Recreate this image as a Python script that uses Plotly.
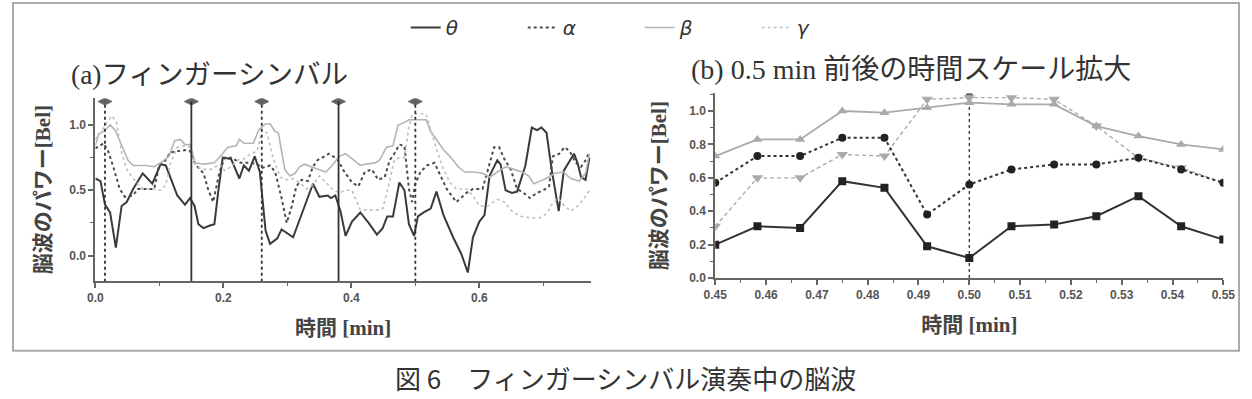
import plotly.graph_objects as go

# ---------------- data: (a) full recording ----------------
theta_a_t = [0, 0.008, 0.015, 0.023, 0.032, 0.041, 0.049, 0.059, 0.074, 0.089, 0.102, 0.11, 0.128, 0.14, 0.148, 0.155, 0.161, 0.169, 0.179, 0.186, 0.192, 0.199, 0.212, 0.225, 0.232, 0.24, 0.249, 0.257, 0.266, 0.273, 0.284, 0.291, 0.309, 0.34, 0.35, 0.363, 0.368, 0.375, 0.383, 0.391, 0.401, 0.414, 0.427, 0.44, 0.449, 0.456, 0.465, 0.475, 0.483, 0.49, 0.498, 0.504, 0.513, 0.524, 0.533, 0.544, 0.559, 0.572, 0.582, 0.59, 0.6, 0.608, 0.616, 0.628, 0.633, 0.641, 0.651, 0.659, 0.672, 0.682, 0.69, 0.697, 0.705, 0.713, 0.724, 0.732, 0.748, 0.754, 0.759, 0.766, 0.772]
theta_a_v = [0.59, 0.57, 0.39, 0.33, 0.06, 0.38, 0.41, 0.51, 0.63, 0.55, 0.70, 0.69, 0.46, 0.39, 0.44, 0.38, 0.24, 0.21, 0.23, 0.24, 0.49, 0.75, 0.74, 0.59, 0.69, 0.65, 0.76, 0.64, 0.19, 0.09, 0.13, 0.20, 0.14, 0.55, 0.45, 0.46, 0.44, 0.46, 0.34, 0.15, 0.26, 0.33, 0.25, 0.16, 0.21, 0.30, 0.30, 0.56, 0.50, 0.24, 0.15, 0.30, 0.33, 0.36, 0.49, 0.31, 0.14, 0.01, -0.13, 0.14, 0.26, 0.31, 0.61, 0.73, 0.70, 0.50, 0.48, 0.49, 0.69, 0.98, 0.96, 0.98, 0.94, 0.66, 0.34, 0.65, 0.78, 0.70, 0.60, 0.58, 0.75]

alpha_a_t = [0, 0.013, 0.02, 0.028, 0.038, 0.046, 0.059, 0.066, 0.082, 0.092, 0.1, 0.107, 0.117, 0.128, 0.143, 0.148, 0.156, 0.169, 0.176, 0.184, 0.194, 0.202, 0.212, 0.227, 0.243, 0.253, 0.26, 0.273, 0.281, 0.291, 0.299, 0.307, 0.314, 0.322, 0.332, 0.34, 0.347, 0.365, 0.378, 0.388, 0.401, 0.411, 0.421, 0.432, 0.442, 0.452, 0.46, 0.467, 0.475, 0.483, 0.49, 0.495, 0.5, 0.508, 0.518, 0.53, 0.539, 0.549, 0.564, 0.58, 0.59, 0.605, 0.613, 0.623, 0.631, 0.639, 0.649, 0.659, 0.669, 0.679, 0.69, 0.7, 0.709, 0.715, 0.725, 0.733, 0.741, 0.751, 0.759, 0.766, 0.772]
alpha_a_v = [0.82, 0.86, 0.80, 0.68, 0.51, 0.45, 0.46, 0.51, 0.51, 0.51, 0.70, 0.71, 0.79, 0.80, 0.81, 0.80, 0.70, 0.63, 0.51, 0.41, 0.64, 0.75, 0.75, 0.71, 0.71, 0.70, 0.67, 0.69, 0.64, 0.44, 0.25, 0.38, 0.53, 0.58, 0.57, 0.68, 0.73, 0.78, 0.74, 0.65, 0.56, 0.53, 0.64, 0.66, 0.58, 0.60, 0.73, 0.78, 0.85, 0.84, 0.51, 0.41, 0.55, 0.64, 0.69, 0.71, 0.61, 0.51, 0.41, 0.48, 0.51, 0.51, 0.65, 0.83, 0.83, 0.74, 0.66, 0.51, 0.48, 0.44, 0.48, 0.50, 0.53, 0.76, 0.78, 0.83, 0.80, 0.71, 0.68, 0.73, 0.79]

beta_a_t = [0, 0.005, 0.015, 0.023, 0.031, 0.041, 0.051, 0.059, 0.079, 0.092, 0.102, 0.115, 0.124, 0.133, 0.14, 0.148, 0.156, 0.169, 0.186, 0.197, 0.207, 0.22, 0.225, 0.232, 0.24, 0.247, 0.255, 0.266, 0.273, 0.281, 0.286, 0.291, 0.296, 0.304, 0.312, 0.319, 0.327, 0.337, 0.35, 0.36, 0.37, 0.381, 0.391, 0.401, 0.414, 0.421, 0.437, 0.444, 0.455, 0.465, 0.473, 0.483, 0.49, 0.504, 0.517, 0.524, 0.534, 0.544, 0.554, 0.567, 0.577, 0.59, 0.605, 0.616, 0.628, 0.641, 0.654, 0.667, 0.677, 0.685, 0.695, 0.708, 0.718, 0.731, 0.743, 0.756, 0.766, 0.772]
beta_a_v = [0.84, 0.93, 0.96, 1.00, 0.96, 0.84, 0.73, 0.69, 0.69, 0.68, 0.71, 0.76, 0.88, 0.89, 0.85, 0.85, 0.71, 0.70, 0.71, 0.77, 0.83, 0.84, 0.89, 0.86, 0.86, 0.86, 0.96, 1.01, 1.01, 0.95, 0.94, 0.81, 0.66, 0.61, 0.63, 0.68, 0.70, 0.68, 0.66, 0.64, 0.69, 0.76, 0.78, 0.74, 0.69, 0.70, 0.71, 0.73, 0.83, 0.84, 1.00, 1.02, 1.04, 1.04, 1.04, 0.95, 0.88, 0.81, 0.76, 0.68, 0.64, 0.64, 0.63, 0.60, 0.64, 0.68, 0.66, 0.64, 0.61, 0.55, 0.57, 0.60, 0.63, 0.64, 0.59, 0.57, 0.63, 0.78]

gamma_a_t = [0, 0.008, 0.018, 0.026, 0.033, 0.041, 0.049, 0.059, 0.074, 0.089, 0.102, 0.11, 0.117, 0.128, 0.14, 0.148, 0.156, 0.166, 0.181, 0.194, 0.202, 0.212, 0.222, 0.232, 0.243, 0.253, 0.26, 0.268, 0.278, 0.289, 0.299, 0.309, 0.319, 0.33, 0.34, 0.35, 0.36, 0.37, 0.381, 0.391, 0.401, 0.414, 0.429, 0.442, 0.449, 0.457, 0.467, 0.475, 0.483, 0.49, 0.495, 0.506, 0.517, 0.524, 0.534, 0.544, 0.554, 0.564, 0.58, 0.59, 0.6, 0.613, 0.628, 0.639, 0.651, 0.664, 0.679, 0.695, 0.705, 0.713, 0.723, 0.733, 0.743, 0.754, 0.764, 0.772]
gamma_a_v = [0.89, 0.94, 1.02, 1.07, 1.02, 0.79, 0.66, 0.59, 0.51, 0.51, 0.50, 0.54, 0.70, 0.83, 0.84, 0.83, 0.70, 0.66, 0.66, 0.70, 0.65, 0.68, 0.73, 0.74, 0.78, 0.80, 0.96, 0.94, 0.74, 0.60, 0.58, 0.59, 0.56, 0.51, 0.54, 0.61, 0.56, 0.51, 0.48, 0.50, 0.50, 0.35, 0.35, 0.35, 0.36, 0.51, 0.73, 0.75, 0.75, 0.99, 1.08, 1.09, 1.08, 0.96, 0.80, 0.66, 0.56, 0.51, 0.51, 0.46, 0.38, 0.38, 0.43, 0.41, 0.34, 0.30, 0.29, 0.29, 0.32, 0.39, 0.44, 0.38, 0.34, 0.38, 0.44, 0.50]

# strike events (cymbal hits) in (a): time, line style
event_t = [0.015, 0.15, 0.26, 0.38, 0.50]
event_dash = ["dot", "solid", "dot", "solid", "dot"]
event_lo, event_hi = -0.2, 1.18

# ---------------- data: (b) zoom around 0.5 min ----------------
t_b = [0.45, 0.4583, 0.4667, 0.475, 0.4833, 0.4917, 0.5, 0.5083, 0.5167, 0.525, 0.5333, 0.5417, 0.55]
theta_b = [0.20, 0.31, 0.30, 0.58, 0.54, 0.19, 0.12, 0.31, 0.32, 0.37, 0.49, 0.31, 0.23]
alpha_b = [0.57, 0.73, 0.73, 0.84, 0.84, 0.38, 0.56, 0.65, 0.68, 0.68, 0.72, 0.65, 0.57]
beta_b = [0.73, 0.83, 0.83, 1.00, 0.99, 1.02, 1.05, 1.04, 1.04, 0.91, 0.85, 0.80, 0.77]
gamma_b = [0.31, 0.60, 0.60, 0.74, 0.73, 1.07, 1.08, 1.08, 1.07, 0.91, 0.72, 0.66, 0.57]
event_b_t = 0.50
event_b_hi = 1.09

names = ["θ", "α", "β", "γ"]

# ---------------- styles ----------------
C_DARK = "#3a3a3a"
C_LIGHT = "#b4b4b4"
C_AXIS = "#666666"
C_TEXT = "#444444"
SERIF_JP = "Liberation Serif, Noto Sans CJK JP"
W, H = 1252, 399

fig = go.Figure()

series_a = [
    (theta_a_t, theta_a_v, C_DARK, "solid", 2.0),
    (alpha_a_t, alpha_a_v, "#4a4a4a", "dot", 2.0),
    (beta_a_t, beta_a_v, C_LIGHT, "solid", 1.6),
    (gamma_a_t, gamma_a_v, "#c0c0c0", "dot", 1.6),
]
for name, (t, v, col, dash, w) in zip(names, series_a):
    fig.add_trace(go.Scatter(x=t, y=v, mode="lines", name=name,
                             line=dict(color=col, dash=dash, width=w),
                             xaxis="x", yaxis="y", showlegend=True))

for t, d in zip(event_t, event_dash):
    fig.add_trace(go.Scatter(x=[t, t], y=[event_lo, event_hi], mode="lines+markers",
                             line=dict(color="#333333", dash=d, width=1.8),
                             marker=dict(symbol="diamond-wide", size=[0, 10], color="#222222"),
                             xaxis="x", yaxis="y", showlegend=False, hoverinfo="skip"))

series_b = [
    (theta_b, "#333333", "solid", 2.0, "square", "#222222", 8),
    (alpha_b, "#333333", "dot", 2.0, "circle", "#222222", 8),
    (beta_b, "#aaaaaa", "solid", 1.8, "triangle-up", "#aaaaaa", 9),
    (gamma_b, "#aaaaaa", "4px,3px", 1.4, "triangle-down", "#aaaaaa", 10),
]
# vertical event line in (b)
fig.add_trace(go.Scatter(x=[event_b_t, event_b_t], y=[0, event_b_hi], mode="lines+markers",
                         line=dict(color="#333333", dash="dot", width=1.3),
                         marker=dict(symbol="circle", size=[0, 7], color="#222222"),
                         xaxis="x2", yaxis="y2", showlegend=False, hoverinfo="skip"))
for name, (v, col, dash, w, sym, mcol, ms) in zip(names[::-1], series_b[::-1]):
    fig.add_trace(go.Scatter(x=t_b, y=v, mode="lines+markers", name=name,
                             line=dict(color=col, dash=dash, width=w),
                             marker=dict(symbol=sym, size=ms, color=mcol),
                             xaxis="x2", yaxis="y2", showlegend=False))

tickfont = dict(family="Liberation Sans, Arial", size=12, color="#555555", weight="bold")
titlefont = dict(family=SERIF_JP, size=21, color=C_TEXT, weight="bold")
ax_common = dict(showline=True, linecolor=C_AXIS, linewidth=2, ticks="outside",
                 ticklen=5, tickwidth=1.5, tickcolor=C_AXIS, showgrid=False,
                 zeroline=False, tickfont=tickfont, mirror=False)

fig.update_layout(
    width=W, height=H,
    margin=dict(l=0, r=0, t=0, b=0),
    paper_bgcolor="white", plot_bgcolor="white",
    xaxis=dict(domain=[85 / W, 590 / W], range=[0, 0.774], anchor="y",
               tickvals=[0, 0.2, 0.4, 0.6], ticktext=["0.0", "0.2", "0.4", "0.6"],
               minor=dict(tickvals=[0.1, 0.3, 0.5, 0.7], ticks="outside", ticklen=3,
                          tickcolor=C_AXIS, tickwidth=1.2),
               title=dict(text="時間 [min]", font=titlefont, standoff=16),
               **ax_common),
    yaxis=dict(domain=[1 - 286 / H, 1 - 100 / H], range=[-0.195, 1.205], anchor="x",
               tickvals=[0, 0.5, 1.0], ticktext=["0.0", "0.5", "1.0"],
               minor=dict(tickvals=[-0.25, 0.25, 0.75], ticks="outside", ticklen=3,
                          tickcolor=C_AXIS, tickwidth=1.2),
               title=dict(text="脳波のパワー[Bel]", font=titlefont, standoff=13),
               **ax_common),
    xaxis2=dict(domain=[717 / W, 1235 / W], range=[0.45, 0.55], anchor="y2",
                tickvals=[0.45, 0.46, 0.47, 0.48, 0.49, 0.50, 0.51, 0.52, 0.53, 0.54, 0.55],
                ticktext=["0.45", "0.46", "0.47", "0.48", "0.49", "0.50", "0.51", "0.52", "0.53", "0.54", "0.55"],
                minor=dict(dtick=0.005, tick0=0.45, ticks="outside", ticklen=3,
                           tickcolor=C_AXIS, tickwidth=1.2),
                title=dict(text="時間 [min]", font=titlefont, standoff=16),
                **ax_common),
    yaxis2=dict(domain=[1 - 283 / H, 1 - 95 / H], range=[0, 1.106], anchor="x2",
                tickvals=[0, 0.2, 0.4, 0.6, 0.8, 1.0],
                ticktext=["0.0", "0.2", "0.4", "0.6", "0.8", "1.0"],
                minor=dict(dtick=0.1, tick0=0, ticks="outside", ticklen=3,
                           tickcolor=C_AXIS, tickwidth=1.2),
                title=dict(text="脳波のパワー[Bel]", font=titlefont, standoff=17),
                **ax_common),
    legend=dict(orientation="h", x=0.5 + 14 / W, xanchor="center", y=1 - 28 / H, yanchor="middle",
                font=dict(family="DejaVu Sans", size=20, color="#333333", style="italic"),
                entrywidth=72, entrywidthmode="pixels", bgcolor="rgba(0,0,0,0)",
                itemclick=False),
    showlegend=True,
    annotations=[
        dict(text="(a)フィンガーシンバル", xref="paper", yref="paper",
             x=58 / W, y=1 - 76 / H, xanchor="left", yanchor="middle", showarrow=False,
             font=dict(family=SERIF_JP, size=27.5, color="#333333")),
        dict(text="(b) 0.5 min 前後の時間スケール拡大", xref="paper", yref="paper",
             x=690 / W, y=1 - 71 / H, xanchor="left", yanchor="middle", showarrow=False,
             font=dict(family=SERIF_JP, size=28, color="#333333")),
        dict(text="図 6　フィンガーシンバル演奏中の脳波", xref="paper", yref="paper",
             x=625 / W, y=1 - 384 / H, xanchor="center", yanchor="middle", showarrow=False,
             font=dict(family="Noto Sans CJK JP", size=26, color="#333333")),
    ],
    shapes=[
        dict(type="rect", xref="paper", yref="paper", x0=1 / W, x1=1 - 1 / W,
             y0=1 - 357 / H, y1=1 - 3 / H, line=dict(color="#aaaaaa", width=2),
             fillcolor="rgba(0,0,0,0)", layer="below"),
    ],
)

fig.write_html("out.html")
